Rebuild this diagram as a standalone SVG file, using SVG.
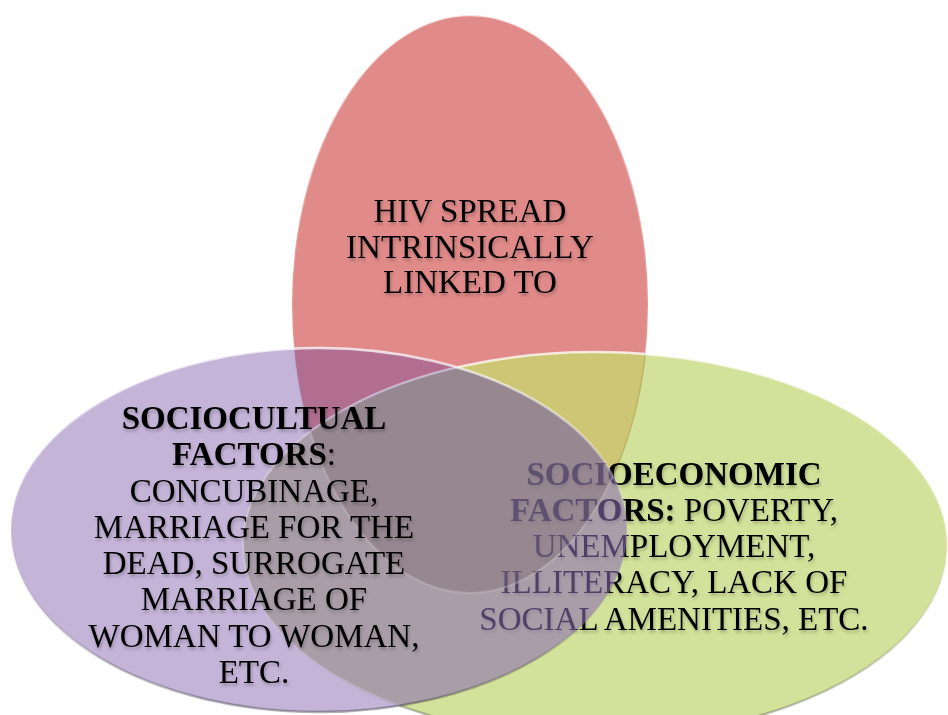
<svg xmlns="http://www.w3.org/2000/svg" width="948" height="715" viewBox="0 0 948 715">
  <style>
    .label { font-family: "Liberation Serif", "Times New Roman", serif; font-size: 33px; fill: #000; text-anchor: middle; filter: url(#textShadow); }
    .bold { font-weight: bold; }
    .rim { fill: none; stroke: url(#rimGrad); stroke-width: 2.5; }
  </style>
  <defs>
    <clipPath id="clipRed"><ellipse cx="470" cy="304" rx="178" ry="289"/></clipPath>
    <clipPath id="clipGreen"><ellipse cx="595" cy="545" rx="352" ry="193"/></clipPath>
    <clipPath id="clipPurple"><ellipse cx="319" cy="530" rx="308" ry="182"/></clipPath>
    <linearGradient id="rimGrad" x1="0" y1="0" x2="0" y2="1">
      <stop offset="0" stop-color="#ffffff" stop-opacity="0.75"/>
      <stop offset="0.45" stop-color="#ffffff" stop-opacity="0.1"/>
      <stop offset="1" stop-color="#000000" stop-opacity="0.3"/>
    </linearGradient>
    <filter id="textShadow" x="-10%" y="-30%" width="120%" height="170%">
      <feDropShadow dx="1" dy="2.5" stdDeviation="1.6" flood-color="#000" flood-opacity="0.25"/>
    </filter>
  </defs>

  <!-- top circle: HIV spread -->
  <g id="hiv">
    <ellipse cx="470" cy="304" rx="178" ry="289" fill="#E08B89"/>
    <ellipse class="rim" cx="470" cy="304" rx="178" ry="289"/>
    <text class="label" x="470" y="222">HIV SPREAD</text>
    <text class="label" x="470" y="258">INTRINSICALLY</text>
    <text class="label" x="470" y="293">LINKED TO</text>
  </g>

  <!-- right circle: socioeconomic factors -->
  <g id="socioeconomic">
    <ellipse cx="595" cy="545" rx="352" ry="193" fill="#D3E29A"/>
    <!-- overlap with the top circle -->
    <ellipse cx="470" cy="304" rx="178" ry="289" fill="#CDC674" clip-path="url(#clipGreen)"/>
    <ellipse cx="470" cy="304" rx="178" ry="289" fill="none" stroke="#a39a4a" stroke-opacity="0.5" stroke-width="1.5" clip-path="url(#clipGreen)"/>
    <ellipse class="rim" cx="595" cy="545" rx="352" ry="193"/>
    <text class="label" x="674" y="485"><tspan class="bold">SOCIOECONOMIC</tspan></text>
    <text class="label" x="674" y="521"><tspan class="bold">FACTORS:</tspan> POVERTY,</text>
    <text class="label" x="674" y="557">UNEMPLOYMENT,</text>
    <text class="label" x="674" y="593">ILLITERACY, LACK OF</text>
    <text class="label" x="674" y="630">SOCIAL AMENITIES, ETC.</text>
  </g>

  <!-- left circle: sociocultural factors (translucent) -->
  <g id="sociocultural">
    <ellipse cx="319" cy="530" rx="308" ry="182" fill="#6C449E" fill-opacity="0.4"/>
    <!-- tint where it covers the right circle -->
    <g clip-path="url(#clipPurple)">
      <ellipse cx="595" cy="545" rx="352" ry="193" fill="#AA96C8" fill-opacity="0.3"/>
      <!-- deeper tone where all three circles meet -->
      <g clip-path="url(#clipGreen)">
        <ellipse cx="470" cy="304" rx="178" ry="289" fill="#787382" fill-opacity="0.35"/>
        <ellipse cx="470" cy="304" rx="178" ry="289" fill="none" stroke="#ffffff" stroke-opacity="0.25" stroke-width="2"/>
      </g>
      <ellipse cx="595" cy="545" rx="352" ry="193" fill="none" stroke="#ffffff" stroke-opacity="0.3" stroke-width="2"/>
    </g>
    <ellipse class="rim" cx="319" cy="530" rx="308" ry="182"/>
    <text class="label" x="254" y="429"><tspan class="bold">SOCIOCULTUAL</tspan></text>
    <text class="label" x="254" y="465"><tspan class="bold">FACTORS</tspan>:</text>
    <text class="label" x="254" y="502">CONCUBINAGE,</text>
    <text class="label" x="254" y="538">MARRIAGE FOR THE</text>
    <text class="label" x="254" y="574">DEAD, SURROGATE</text>
    <text class="label" x="254" y="610">MARRIAGE OF</text>
    <text class="label" x="254" y="647">WOMAN TO WOMAN,</text>
    <text class="label" x="254" y="683">ETC.</text>
  </g>
</svg>
